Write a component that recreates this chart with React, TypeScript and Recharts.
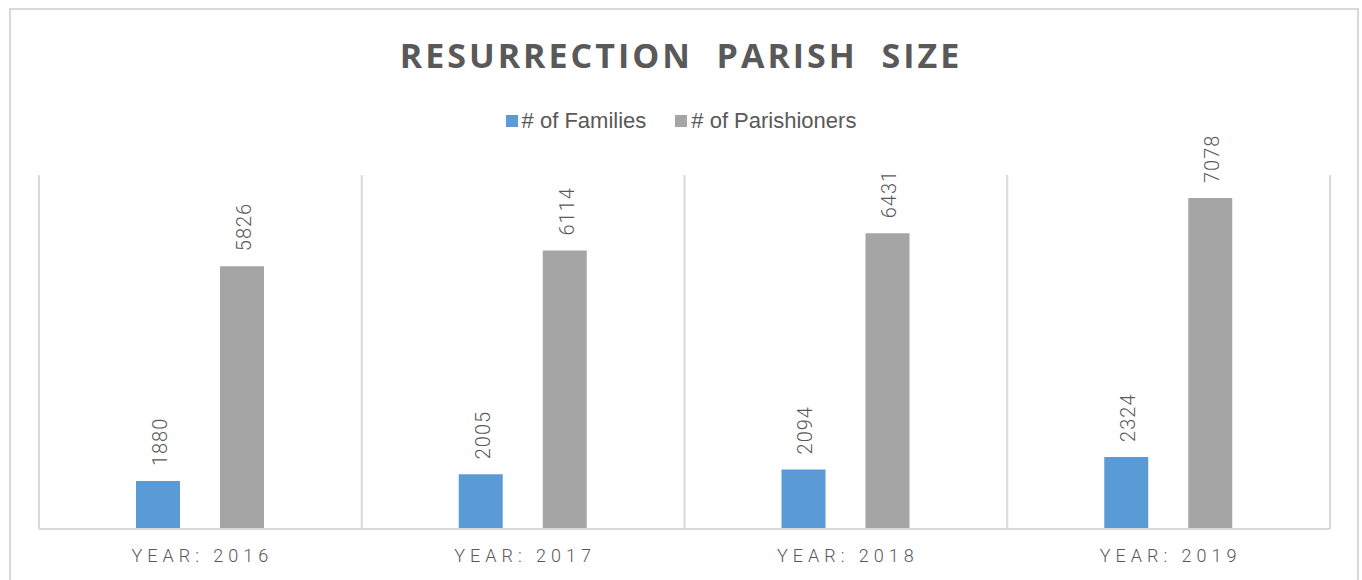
import { BarChart, Bar, XAxis, YAxis, CartesianGrid, Legend, LabelList } from 'recharts';

const years = ['YEAR: 2016', 'YEAR: 2017', 'YEAR: 2018', 'YEAR: 2019'];
const families = [1880, 2005, 2094, 2324];
const parishioners = [5826, 6114, 6431, 7078];

const BLUE = '#5B9BD5';
const GRAY = '#A5A5A5';
const TEXT = '#595959';
const LINE = '#D9D9D9';

const data = years.map((year, i) => ({
  year,
  '# of Families': families[i],
  '# of Parishioners': parishioners[i],
}));

// separators between the year groups, from the plot offset
const groupEdges = ({ offset }: any) =>
  Array.from({ length: years.length + 1 }, (_, i) => offset.left + (offset.width * i) / years.length);

// rotated value label sitting above each bar
function VerticalLabel(props: any) {
  const { x, y, width, value } = props;
  const cx = Number(x) + Number(width) / 2 + 9;
  const ty = Number(y) - 15;
  return (
    <text
      x={cx}
      y={ty}
      transform={`rotate(-90, ${cx}, ${ty})`}
      textAnchor="start"
      fill={TEXT}
      fontFamily="Roboto"
      fontWeight={300}
      fontSize={20}
      letterSpacing={1}
    >
      {value}
    </text>
  );
}

function YearTick(props: any) {
  const { x, y, payload } = props;
  return (
    <text
      x={x + 2}
      y={y + 25}
      textAnchor="middle"
      fill={TEXT}
      fontFamily="Roboto"
      fontWeight={300}
      fontSize={18}
      letterSpacing={5}
    >
      {payload.value}
    </text>
  );
}

function LegendContent(props: any) {
  const items = props.payload || [];
  return (
    <div style={{ display: 'flex', justifyContent: 'center', gap: 29, fontFamily: '"Liberation Sans"', fontSize: 22, color: TEXT }}>
      {items.map((it: any) => (
        <div key={it.value} style={{ display: 'flex', alignItems: 'center' }}>
          <span style={{ display: 'inline-block', width: 12, height: 12, background: it.color, marginRight: 4 }} />
          <span>{it.value}</span>
        </div>
      ))}
    </div>
  );
}

export default function App() {
  return (
    <div style={{ position: 'absolute', left: 0, top: 0, width: 1362, height: 580, overflow: 'hidden', background: '#fff' }}>
      <div style={{ position: 'absolute', left: 9, top: 8, width: 1350, height: 600, border: `2px solid ${LINE}`, boxSizing: 'border-box' }} />
      <div
        style={{
          position: 'absolute', left: 0, top: 32, width: 1362, textAlign: 'center',
          fontFamily: '"Open Sans"', fontWeight: 700, fontSize: 34, letterSpacing: 3, color: TEXT,
          whiteSpace: 'pre',
        }}
      >
        {'RESURRECTION  PARISH  SIZE'}
      </div>
      <BarChart
        width={1362}
        height={580}
        data={data}
        margin={{ top: 175, right: 32, left: 39, bottom: 11 }}
        barGap={40}
        barSize={44}
        style={{ position: 'absolute', left: 0, top: 0 }}
      >
        <CartesianGrid horizontal={false} verticalCoordinatesGenerator={groupEdges} stroke={LINE} strokeWidth={2} />
        <XAxis
          dataKey="year"
          height={40}
          axisLine={{ stroke: LINE, strokeWidth: 2 }}
          tickLine={false}
          tick={<YearTick />}
          interval={0}
        />
        <YAxis hide domain={[1000, 7500]} allowDataOverflow />
        <Legend
          verticalAlign="middle"
          align="center"
          wrapperStyle={{ top: 108, left: 0, width: 1362 }}
          content={<LegendContent />}
        />
        <Bar dataKey="# of Families" fill={BLUE} isAnimationActive={false}>
          <LabelList dataKey="# of Families" content={<VerticalLabel />} />
        </Bar>
        <Bar dataKey="# of Parishioners" fill={GRAY} isAnimationActive={false}>
          <LabelList dataKey="# of Parishioners" content={<VerticalLabel />} />
        </Bar>
      </BarChart>
    </div>
  );
}
